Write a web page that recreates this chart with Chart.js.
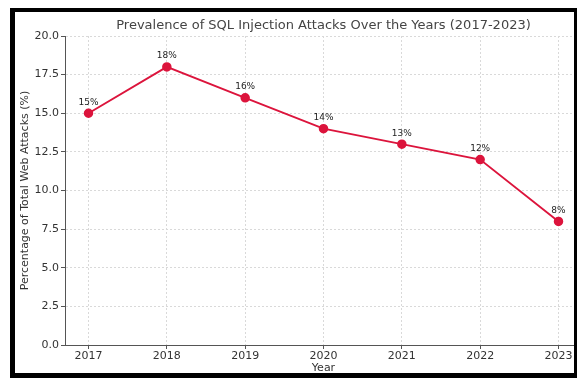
<!DOCTYPE html>
<html>
<head>
<meta charset="utf-8">
<script src="https://cdn.jsdelivr.net/npm/chart.js@4"></script>
<style>
  html, body { margin: 0; padding: 0; overflow: hidden; background: #fff; }
  #wrap { position: relative; width: 577px; height: 378px; overflow: hidden; }
  #chart { position: absolute; left: 0; top: 0; background: #fff; }
  #frame {
    position: absolute; left: 10px; top: 8px; right: 0; bottom: 0;
    border-style: solid; border-color: #000;
    border-width: 4px 3px 5px 5px;
    pointer-events: none;
  }
</style>
</head>
<body>
<div id="wrap">
  <canvas id="chart" width="600" height="378"></canvas>
  <div id="frame"></div>
</div>
<script>
// chart data
const years = [2017, 2018, 2019, 2020, 2021, 2022, 2023];
const percentages = [15, 18, 16, 14, 13, 12, 8];
const yTicks = [0, 2.5, 5, 7.5, 10, 12.5, 15, 17.5, 20];

const FONT = "'DejaVu Sans', sans-serif";

// draws the "15%" style labels above each point
const pointLabels = {
  id: "pointLabels",
  afterDatasetsDraw(chart) {
    const ctx = chart.ctx;
    const meta = chart.getDatasetMeta(0);
    ctx.save();
    ctx.font = "9px " + FONT;
    ctx.fillStyle = "#222";
    ctx.textAlign = "center";
    ctx.textBaseline = "alphabetic";
    meta.data.forEach((pt, i) => {
      ctx.fillText(percentages[i] + "%", pt.x, pt.y - 8.5);
    });
    ctx.restore();
  }
};

new Chart(document.getElementById("chart").getContext("2d"), {
  type: "line",
  data: {
    datasets: [{
      data: years.map((y, i) => ({ x: y, y: percentages[i] })),
      borderColor: "#dc143c",
      backgroundColor: "#dc143c",
      borderWidth: 1.9,
      pointRadius: 3.8,
      pointHoverRadius: 3.8,
      tension: 0
    }]
  },
  options: {
    responsive: false,
    animation: false,
    layout: { padding: { left: 0, top: 36, right: 18, bottom: 0 } },
    plugins: {
      legend: { display: false },
      tooltip: { enabled: false },
      title: { display: false }
    },
    scales: {
      x: {
        type: "linear",
        min: 2016.7,
        max: 2023.3,
        afterBuildTicks: s => { s.ticks = years.map(v => ({ value: v })); },
        afterFit: s => { s.height = 33; },
        ticks: {
          callback: v => String(v),
          color: "#333",
          font: { family: FONT, size: 11 },
          padding: 1,
          maxRotation: 0
        },
        grid: {
          color: "#d9d9d9",
          lineWidth: 1,
          tickColor: "#555",
          tickLength: 4,
          tickBorderDash: []
        },
        border: { color: "#555", width: 1, dash: [2, 2] },
        title: {
          display: true,
          text: "Year",
          color: "#333",
          font: { family: FONT, size: 11 },
          padding: { top: 0, bottom: 3 }
        }
      },
      y: {
        min: 0,
        max: 20,
        afterBuildTicks: s => { s.ticks = yTicks.map(v => ({ value: v })); },
        afterFit: s => { s.width = 65; },
        ticks: {
          callback: v => v.toFixed(1),
          color: "#333",
          font: { family: FONT, size: 11 },
          padding: 2
        },
        grid: {
          color: "#d9d9d9",
          lineWidth: 1,
          tickColor: "#555",
          tickLength: 4,
          tickBorderDash: []
        },
        border: { color: "#555", width: 1, dash: [2, 2] },
        title: {
          display: true,
          text: "Percentage of Total Web Attacks (%)",
          color: "#333",
          font: { family: FONT, size: 11 },
          padding: { top: 19, bottom: 0 }
        }
      }
    }
  },
  plugins: [pointLabels, {
    id: "mainTitle",
    afterDraw(chart) {
      const ctx = chart.ctx;
      const area = chart.chartArea;
      ctx.save();
      ctx.font = "13px " + FONT;
      ctx.fillStyle = "#444";
      ctx.textAlign = "center";
      ctx.textBaseline = "middle";
      ctx.fillText("Prevalence of SQL Injection Attacks Over the Years (2017-2023)", (area.left + area.right) / 2, 26);
      ctx.restore();
    }
  }]
});
</script>
</body>
</html>
